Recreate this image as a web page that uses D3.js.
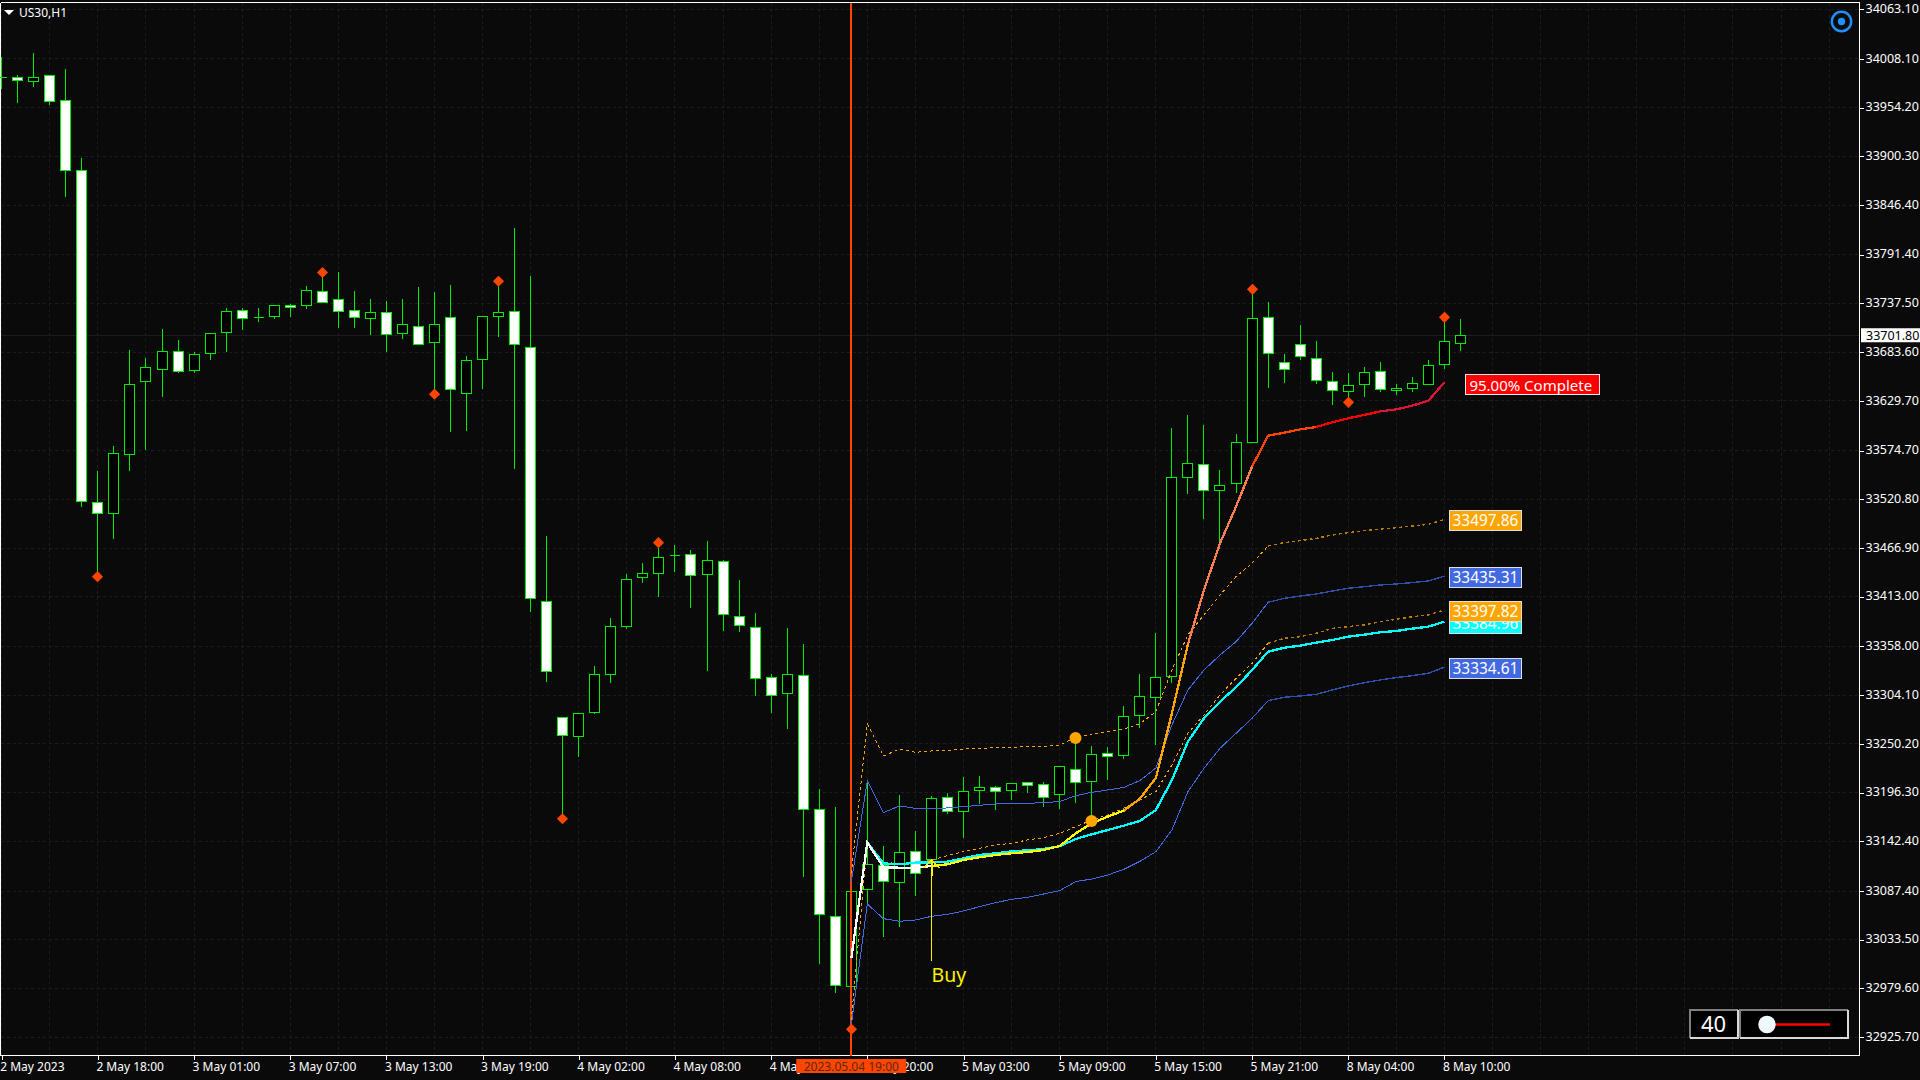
<!DOCTYPE html>
<html><head><meta charset="utf-8">
<script src="https://cdn.jsdelivr.net/npm/d3@7/dist/d3.min.js"></script>
<style>
html,body{margin:0;padding:0;background:#0a0a0a;overflow:hidden}
svg{display:block}
text{font-family:"Noto Sans",sans-serif}
</style></head><body>
<script>
// ---------- data ----------
const symbolName = "US30,H1";
const barHigh = [34011.3,33991.0,34015.1,33989.3,33997.3,33899.1,33552.8,33580.7,33687.0,33677.7,33709.8,33697.6,33684.4,33704.3,33733.1,33733.1,33733.1,33736.5,33737.4,33757.3,33771.2,33772.9,33751.8,33742.9,33740.8,33742.9,33756.4,33750.9,33758.5,33679.8,33723.4,33761.5,33821.6,33768.5,33480.4,33279.1,33285.0,33336.6,33389.7,33438.4,33450.6,33472.3,33470.5,33465.0,33474.9,33453.9,33431.8,33395.2,33327.8,33378.7,33361.0,33200.5,33181.0,33110.0,33209.7,33137.8,33193.9,33154.4,33193.2,33196.1,33214.2,33215.3,33204.2,33207.9,33207.9,33208.3,33225.2,33255.8,33248.1,33247.4,33292.4,33327.8,33373.9,33600.7,33614.7,33603.6,33553.8,33594.0,33752.6,33739.7,33682.5,33714.3,33696.9,33662.3,33661.5,33667.8,33673.7,33649.0,33656.7,33675.9,33721.6,33720.9];
const barLow = [33975.3,33959.7,33977.4,33957.5,33855.9,33512.5,33435.5,33477.0,33553.2,33575.6,33634.9,33661.6,33661.6,33676.0,33684.9,33709.0,33717.9,33721.3,33723.4,33731.9,33738.2,33710.7,33710.7,33703.1,33684.9,33699.3,33691.7,33636.6,33596.4,33597.2,33643.8,33701.4,33555.3,33396.3,33318.9,33166.9,33236.3,33283.5,33317.8,33378.0,33428.5,33412.9,33440.6,33400.8,33331.4,33375.7,33374.2,33303.8,33285.0,33267.3,33103.9,33007.6,32975.6,32933.9,33071.4,33037.1,33048.2,33082.5,33119.4,33172.9,33147.0,33184.7,33177.6,33188.4,33196.5,33180.9,33178.8,33185.4,33163.6,33210.8,33234.1,33268.4,33249.9,33318.5,33527.6,33499.2,33466.0,33528.7,33583.3,33644.9,33650.5,33675.9,33648.6,33626.1,33628.0,33635.0,33639.8,33637.2,33640.5,33647.5,33665.9,33685.9];
const barOpen = [33988.0,33988.0,33983.4,33989.3,33962.6,33884.3,33517.6,33504.9,33570.1,33651.4,33664.1,33684.9,33662.8,33681.9,33705.2,33729.3,33722.1,33723.4,33735.3,33734.8,33751.3,33741.6,33730.2,33720.4,33727.2,33704.8,33711.5,33693.8,33722.5,33638.3,33675.1,33723.4,33728.5,33688.8,33408.2,33279.1,33258.8,33285.3,33327.4,33380.1,33434.3,33438.4,33458.7,33459.8,33437.3,33452.1,33391.6,33379.4,33324.1,33306.0,33326.3,33178.0,33058.9,32981.4,33089.5,33115.7,33097.3,33131.5,33122.0,33190.6,33175.8,33199.0,33201.6,33199.0,33207.2,33205.7,33194.6,33222.3,33209.0,33240.0,33237.8,33282.0,33302.0,33324.8,33544.6,33559.4,33530.2,33538.3,33583.3,33722.0,33671.8,33691.8,33676.3,33651.2,33639.8,33647.5,33661.9,33640.9,33643.1,33648.2,33669.6,33692.9];
const barClose = [33988.0,33984.6,33988.0,33961.3,33885.1,33518.0,33504.9,33571.8,33647.6,33666.7,33684.0,33662.0,33680.6,33703.9,33728.5,33720.4,33722.1,33734.8,33732.7,33751.8,33738.2,33728.1,33721.7,33727.2,33703.1,33714.1,33691.7,33714.1,33642.1,33674.3,33723.0,33727.2,33691.7,33411.1,33330.3,33259.9,33283.5,33326.7,33380.5,33432.5,33439.1,33456.8,33458.7,33436.6,33453.5,33393.4,33381.2,33323.0,33303.8,33326.7,33178.0,33061.1,32982.6,33086.6,33116.4,33097.6,33129.7,33106.5,33189.5,33175.8,33198.0,33202.4,33197.9,33206.1,33204.6,33191.3,33224.9,33207.9,33238.9,33236.7,33280.9,33303.0,33324.0,33545.0,33560.8,33530.6,33536.5,33583.7,33720.5,33681.8,33664.1,33678.5,33651.9,33640.9,33646.8,33660.8,33642.0,33643.4,33648.6,33668.5,33695.1,33701.8];

const anchorBar = 53;
const vwapMain = [33012.4,33140.6,33113.1,33112.7,33112.4,33114.6,33116.4,33121.2,33124.2,33126.8,33128.6,33130.1,33132.3,33136.7,33150.7,33161.8,33169.2,33175.8,33189.0,33212.0,33283.5,33360.0,33420.0,33471.6,33512.2,33556.4,33590.7,33594.0,33597.7,33600.3,33605.5,33609.9,33613.6,33617.6,33619.8,33623.9,33629.4,33649.7];
const vwapCyan = [33012.4,33140.6,33117.5,33116.4,33118.3,33118.6,33119.4,33123.1,33126.8,33128.6,33130.8,33131.9,33133.4,33136.4,33144.5,33149.6,33154.4,33159.2,33164.4,33176.5,33209.7,33252.2,33278.0,33296.4,33312.3,33331.4,33351.7,33356.0,33358.4,33361.7,33364.6,33368.3,33370.5,33373.1,33374.6,33377.2,33379.4,33384.96];
const blueUpper = [33097.3,33208.6,33173.6,33181.0,33178.4,33178.0,33178.8,33180.2,33181.7,33183.2,33183.6,33183.9,33184.7,33185.8,33192.4,33196.1,33198.7,33201.6,33209.0,33223.0,33270.6,33309.3,33331.4,33348.0,33362.8,33383.1,33406.3,33410.7,33413.3,33415.5,33418.8,33421.8,33423.6,33425.5,33426.6,33428.1,33429.9,33435.31];
const blueLower = [32938.7,33072.5,33056.3,33053.4,33054.8,33058.9,33061.1,33064.8,33069.6,33074.0,33077.7,33079.9,33083.6,33087.3,33097.3,33100.2,33104.6,33110.9,33119.7,33130.4,33154.4,33196.8,33222.6,33244.8,33261.4,33278.0,33297.5,33301.2,33302.7,33304.5,33309.3,33313.7,33317.4,33320.4,33323.0,33325.2,33327.8,33334.61];
const orangeUpper = [33106.5,33271.7,33236.3,33243.7,33240.4,33241.8,33242.2,33244.0,33244.8,33245.5,33245.9,33246.6,33247.0,33248.5,33257.0,33260.6,33263.2,33266.0,33272.0,33285.4,33331.4,33370.2,33392.3,33414.4,33434.7,33449.5,33468.6,33472.3,33474.5,33477.1,33480.8,33483.4,33485.6,33487.4,33488.9,33490.8,33492.6,33497.86];
const orangeLower = [32944.2,33139.7,33118.3,33117.5,33118.3,33121.2,33126.0,33130.4,33134.1,33137.8,33139.7,33143.4,33146.0,33150.7,33158.1,33165.5,33171.0,33178.4,33187.6,33196.8,33226.3,33261.4,33281.7,33303.8,33322.2,33338.8,33361.0,33366.5,33368.3,33372.0,33377.5,33379.4,33381.2,33384.9,33387.5,33390.4,33392.3,33397.82];
const mainSegmentStart = [53,58,70,74,78,82,86];
const mainSegmentEnd   = [58,70,74,78,82,86,90];
const mainSegmentColor = ["#ffffff","#ffff00","#ffa500","#ff7f50","#ff4500","#ff0000","#dc143c"];

const priceTicks = [34063.10,34008.10,33954.20,33900.30,33846.40,33791.40,33737.50,33683.60,33629.70,33574.70,33520.80,33466.90,33413.00,33358.00,33304.10,33250.20,33196.30,33142.40,33087.40,33033.50,32979.60,32925.70];
const timeTickBars = [0,6,12,18,24,30,36,42,48,54,60,66,72,78,84,90];
const timeTickLabels = ["2 May 2023","2 May 18:00","3 May 01:00","3 May 07:00","3 May 13:00","3 May 19:00","4 May 02:00","4 May 08:00","4 May 14:00","4 May 20:00","5 May 03:00","5 May 09:00","5 May 15:00","5 May 21:00","8 May 04:00","8 May 10:00"];
const lastPrice = 33701.80;
const diamondBars = [6,20,27,31,35,41,53,78,84,90];
const diamondPrices = [33434.7,33771.2,33636.6,33761.5,33166.9,33472.3,32933.9,33752.6,33627.6,33721.6];
const circleBars = [67,68];
const circlePrices = [33256.2,33164.4];
const buyBar = 58, buyTop = 33121.2, buyBottom = 33009.5, buyLabel = "Buy";
const endLabels = ["33435.31","33334.61","33384.96","33497.86","33397.82"];
const endValues = [33435.31,33334.61,33384.96,33497.86,33397.82];
const endColors = ["#4169e1","#4169e1","#00ffff","#ffa500","#ffa500"];
const endBar = 90;
const progressLabel = "95.00% Complete", progressPrice = 33647;
const markerLabel = "2023.05.04 19:00";
const zoomValue = "40";

// ---------- layout ----------
const W=1920,H=1080, L=1, T=2.5, R=1859.5, B=1055.5;
const bg="#0a0a0a", green="#00ee00", grid="#1d1d1d", red="#ff4500";
const svg=d3.select("body").append("svg").attr("width",W).attr("height",H);
svg.append("rect").attr("width",W).attr("height",H).attr("fill",bg);

const x=d3.scaleLinear().domain([0,116]).range([1.7,1861.2]);
const y=d3.scaleLinear().domain([34063.1,32925.7]).range([8.7,1036.7]);
const px=v=>Math.floor(x(v))+.5;
const py=v=>Math.round(y(v))+.5;

// grid
const g=svg.append("g").attr("shape-rendering","crispEdges");
g.selectAll(".h").data(priceTicks).join("line")
 .attr("x1",L).attr("x2",R).attr("y1",d=>py(d)).attr("y2",d=>py(d))
 .attr("stroke",grid).attr("stroke-dasharray","3,3");
g.selectAll(".v").data(d3.range(0,116,3)).join("line")
 .attr("y1",T).attr("y2",B).attr("x1",d=>px(d)).attr("x2",d=>px(d))
 .attr("stroke",grid).attr("stroke-dasharray","3,3");
g.append("line").attr("x1",L).attr("x2",R).attr("y1",py(lastPrice)).attr("y2",py(lastPrice)).attr("stroke","#1c1c1c");

// frame, under the marks
svg.append("path").attr("d",`M${L-.5},${T}H${R}V${B}H${L-.5}`).attr("fill","none").attr("stroke","#fff").attr("shape-rendering","crispEdges");
svg.append("line").attr("x1",.5).attr("x2",.5).attr("y1",T).attr("y2",B).attr("stroke","#fff").attr("shape-rendering","crispEdges");

// candles
const bars=d3.range(barHigh.length);
const cg=svg.append("g").attr("shape-rendering","crispEdges");
cg.selectAll(".wick").data(bars).join("line")
 .attr("x1",i=>px(i)).attr("x2",i=>px(i))
 .attr("y1",i=>py(barHigh[i])).attr("y2",i=>py(barLow[i])).attr("stroke",green);
cg.selectAll(".body").data(bars).join("path")
 .attr("d",i=>{
   const a=py(barOpen[i]),b=py(barClose[i]),l=px(i)-5,r=px(i)+5;
   return `M${l},${a}H${r}V${b}H${l}Z`;
 })
 .attr("fill",i=>barClose[i]<barOpen[i]?"#ffffff":"#000000")
 .attr("stroke",green);

// vertical marker
svg.append("rect").attr("x",x(anchorBar)-1.3).attr("width",2).attr("y",T).attr("height",B-T).attr("fill",red).attr("shape-rendering","crispEdges");

// band lines
const line=d3.line().x(d=>x(d[0])).y(d=>y(d[1]));
const pts=(arr,a,b)=>arr.map((v,k)=>[anchorBar+k,v]).filter(d=>d[0]>=a&&d[0]<=b);
const lg=svg.append("g").attr("fill","none").attr("shape-rendering","crispEdges");
const dimFrom=79;
function band(arr,bright,dim,dash){
  lg.append("path").attr("d",line(pts(arr,53,dimFrom))).attr("stroke",bright).attr("stroke-width",1).attr("stroke-dasharray",dash);
  lg.append("path").attr("d",line(pts(arr,dimFrom,90))).attr("stroke",dim).attr("stroke-width",1.4).attr("stroke-dasharray",dash);
}
band(blueUpper,"#4169e1","#2f4fa8",null);
band(blueLower,"#4169e1","#2f4fa8",null);
band(orangeUpper,"#ffa500","#b87a00","3,3");
band(orangeLower,"#ffa500","#b87a00","3,3");
lg.append("path").attr("d",line(pts(vwapCyan,53,90))).attr("stroke","#00ffff").attr("stroke-width",2.3);
mainSegmentStart.forEach((s,k)=>{
  lg.append("path").attr("d",line(pts(vwapMain,s,mainSegmentEnd[k]))).attr("stroke",mainSegmentColor[k]).attr("stroke-width",2.3);
});

// diamonds and circles
const diamond=d3.symbol(d3.symbolSquare,62);
svg.selectAll(".dm").data(diamondBars).join("path").attr("d",diamond)
 .attr("transform",(d,k)=>`translate(${px(d)},${y(diamondPrices[k])}) rotate(45)`)
 .attr("fill",red);
svg.selectAll(".cc").data(circleBars).join("circle")
 .attr("cx",d=>px(d)).attr("cy",(d,k)=>y(circlePrices[k])).attr("r",6).attr("fill","#ffa500");

// buy arrow
const buyColor="#fff000";
const bg2=svg.append("g").attr("stroke",buyColor).attr("fill","none").attr("shape-rendering","crispEdges");
bg2.append("line").attr("x1",px(buyBar)).attr("x2",px(buyBar)).attr("y1",y(buyTop)).attr("y2",y(buyBottom));
bg2.append("line").attr("x1",px(buyBar)).attr("x2",px(buyBar)).attr("y1",y(buyTop)).attr("y2",y(buyTop)+16).attr("stroke-width",2);
bg2.append("path").attr("d",`M${px(buyBar)-8},${y(buyTop)+8}L${px(buyBar)},${y(buyTop)}L${px(buyBar)+8},${y(buyTop)+8}`).attr("stroke-width",2);
svg.append("text").attr("x",px(buyBar)).attr("y",y(buyBottom)+21.5).attr("fill",buyColor).attr("font-size",19.5).text(buyLabel);

// end labels
const el=svg.selectAll(".el").data(endValues).join("g")
 .attr("transform",d=>`translate(${x(endBar)+5},${y(d)+1.4})`);
el.append("rect").attr("x",0).attr("y",-10).attr("width",72).attr("height",20)
 .attr("fill",(d,k)=>endColors[k]).attr("stroke","#e0e0e0").attr("shape-rendering","crispEdges");
el.append("text").attr("x",36).attr("y",5.5).attr("text-anchor","middle").attr("fill","#fff").attr("font-size",15.4).text((d,k)=>endLabels[k]);
// progress label
const pl=svg.append("g").attr("transform",`translate(${x(endBar)+21},${y(progressPrice)})`);
pl.append("rect").attr("x",0).attr("y",-10).attr("width",134).attr("height",20).attr("fill","#ff0000").attr("stroke","#e8e8e8").attr("shape-rendering","crispEdges");
pl.append("text").attr("x",4).attr("y",6).attr("fill","#fff").attr("font-size",15).text(progressLabel);

// axes
const yAxis=d3.axisRight(y).tickValues(priceTicks).tickSize(4).tickPadding(2).tickFormat(d3.format(".2f"));
const ya=svg.append("g").attr("transform",`translate(${R},0)`).call(yAxis);
ya.select(".domain").remove();
ya.selectAll("line").attr("stroke","#fff").attr("shape-rendering","crispEdges").attr("y1",.5).attr("y2",.5);
ya.selectAll("text").attr("fill","#fff").attr("font-size",12.5).attr("font-family",'"Noto Sans",sans-serif').attr("dy","0.29em");

const xAxis=d3.axisBottom(x).tickValues(timeTickBars).tickSize(4).tickPadding(3).tickFormat((d,k)=>timeTickLabels[k]);
const xa=svg.append("g").attr("transform",`translate(0,${B})`).call(xAxis);
xa.select(".domain").remove();
xa.selectAll("line").attr("stroke","#fff").attr("shape-rendering","crispEdges");
xa.selectAll("text").attr("fill","#fff").attr("font-size",12).attr("font-family",'"Noto Sans",sans-serif').attr("text-anchor","start").attr("dx",-2);

// last price tag
const lp=svg.append("g").attr("transform",`translate(1861,${y(lastPrice)})`);
lp.append("rect").attr("x",0).attr("y",-7).attr("width",59).attr("height",14).attr("fill","#fff");
lp.append("text").attr("x",5).attr("y",4.5).attr("fill","#000").attr("font-size",12.5).text(lastPrice.toFixed(2));

// bottom marker label
const mk=svg.append("g").attr("transform",`translate(${x(anchorBar)},0)`);
mk.append("rect").attr("x",-55).attr("y",1059).attr("width",110).attr("height",14).attr("fill",red);
mk.append("text").attr("y",1070.5).attr("text-anchor","middle").attr("fill","#5a2a10").attr("font-size",12).text(markerLabel);

// title
svg.append("path").attr("d","M4,10H14L9,15Z").attr("fill","#fff");
svg.append("text").attr("x",19).attr("y",17).attr("fill","#fff").attr("font-size",12).text(symbolName);

// target icon
svg.append("circle").attr("cx",1841.5).attr("cy",21.5).attr("r",9.7).attr("fill","none").attr("stroke","#1e90ff").attr("stroke-width",2.4);
svg.append("circle").attr("cx",1841.5).attr("cy",21.5).attr("r",3.7).attr("fill","#1e90ff");

// zoom widget
function box(x0,x1,y0,y1){
  const b=svg.append("g").attr("shape-rendering","crispEdges");
  b.append("rect").attr("x",x0).attr("y",y0).attr("width",x1-x0).attr("height",y1-y0).attr("fill","#000");
  b.append("path").attr("d",`M${x0},${y1}V${y0}H${x1}`).attr("fill","none").attr("stroke","#808080").attr("stroke-width",2);
  b.append("path").attr("d",`M${x1},${y0}V${y1}H${x0}`).attr("fill","none").attr("stroke","#d8d8d8").attr("stroke-width",2);
}
box(1690,1738,1010,1038);
box(1740,1848,1010,1038);
svg.append("text").attr("x",1713.5).attr("y",1032).attr("text-anchor","middle").attr("fill","#fff").attr("font-size",22).text(zoomValue);
svg.append("line").attr("x1",1767).attr("x2",1830).attr("y1",1024.5).attr("y2",1024.5).attr("stroke","#ff0000").attr("stroke-width",2.5);
svg.append("circle").attr("cx",1767).attr("cy",1024.5).attr("r",8.7).attr("fill","#f0f8ff");
</script>
</body></html>
